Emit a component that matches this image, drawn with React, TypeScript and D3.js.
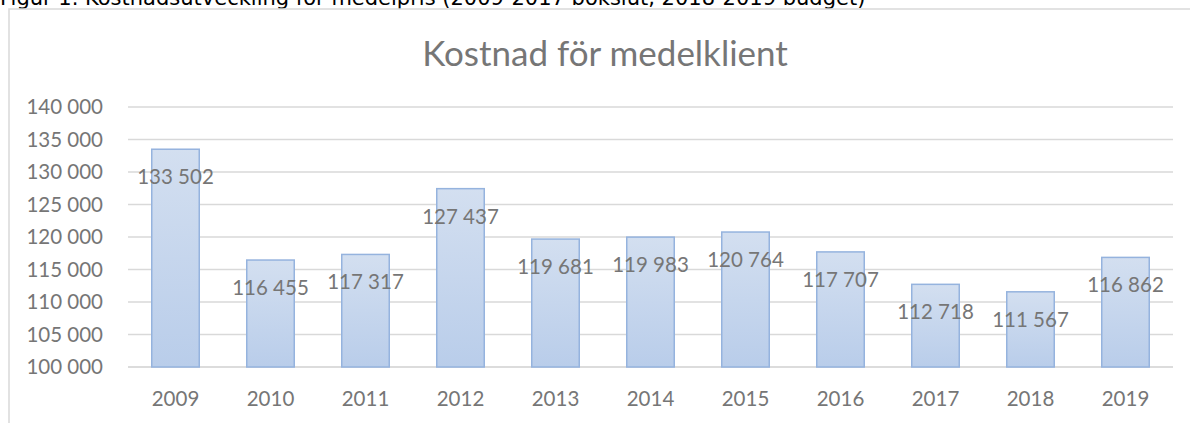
import React, { useRef, useEffect } from "react";
import * as d3 from "d3";

const years = ["2009", "2010", "2011", "2012", "2013", "2014", "2015", "2016", "2017", "2018", "2019"];
const costs = [133502, 116455, 117317, 127437, 119681, 119983, 120764, 117707, 112718, 111567, 116862];
const yTicks = [100000, 105000, 110000, 115000, 120000, 125000, 130000, 135000, 140000];
const chartTitle = "Kostnad för medelklient";
const caption = "Figur 1. Kostnadsutveckling för medelpris (2009-2017 bokslut, 2018-2019 budget)";

const fmt = (v: number) => d3.format(",")(v).replace(/,/g, " ");

const App: React.FC = () => {
    const ref = useRef<SVGSVGElement | null>(null);

    useEffect(() => {
        const root = d3.select(ref.current);
        root.selectAll("*").remove();

        const width = 1190;
        const height = 423;
        const plot = { left: 128, right: 1173, top: 107, bottom: 367 };
        const textColor = "#767676";
        const font = "Lato, 'Open Sans', sans-serif";

        root.attr("width", width).attr("height", height);

        const defs = root.append("defs");
        const grad = defs
            .append("linearGradient")
            .attr("id", "barFill")
            .attr("x1", 0)
            .attr("y1", 0)
            .attr("x2", 0)
            .attr("y2", 1);
        grad.append("stop").attr("offset", "0%").attr("stop-color", "#d3dff0");
        grad.append("stop").attr("offset", "100%").attr("stop-color", "#b9cdea");

        // caption above the chart box (top half is cut off, as in the source)
        root.append("text")
            .attr("x", 0)
            .attr("y", 5)
            .style("font-family", "'DejaVu Sans', Verdana, sans-serif")
            .style("font-size", "21px")
            .attr("fill", "#000")
            .text(caption);

        // chart box border
        root.append("path")
            .attr("d", `M9,${height + 2}V9H${width + 2}`)
            .attr("fill", "none")
            .attr("stroke", "#d9d9d9")
            .attr("stroke-width", 1.5);

        root.append("text")
            .attr("x", 605)
            .attr("y", 66)
            .attr("text-anchor", "middle")
            .style("font-family", font)
            .style("font-size", "35px")
            .attr("fill", textColor)
            .text(chartTitle);

        const x = d3
            .scaleBand()
            .domain(years)
            .range([plot.left, plot.right])
            .paddingInner(0.5)
            .paddingOuter(0.25);

        const y = d3
            .scaleLinear()
            .domain([100000, 140000])
            .range([plot.bottom, plot.top]);

        // gridlines
        root.append("g")
            .selectAll("line")
            .data(yTicks)
            .enter()
            .append("line")
            .attr("x1", plot.left)
            .attr("x2", plot.right)
            .attr("y1", (d) => y(d))
            .attr("y2", (d) => y(d))
            .attr("stroke", (d) => (d === 100000 ? "#d0d0d0" : "#d9d9d9"))
            .attr("stroke-width", 1.5);

        // y axis labels
        root.append("g")
            .selectAll("text")
            .data(yTicks)
            .enter()
            .append("text")
            .attr("x", 103)
            .attr("y", (d) => y(d))
            .attr("dy", "0.36em")
            .attr("text-anchor", "end")
            .style("font-family", font)
            .style("font-size", "20.5px")
            .attr("fill", textColor)
            .text((d) => fmt(d));

        const data = years.map((yr, i) => ({ year: yr, value: costs[i] }));

        // bars
        root.append("g")
            .selectAll("rect")
            .data(data)
            .enter()
            .append("rect")
            .attr("x", (d) => x(d.year)!)
            .attr("y", (d) => y(d.value))
            .attr("width", x.bandwidth())
            .attr("height", (d) => y(100000) - y(d.value))
            .attr("fill", "url(#barFill)")
            .attr("stroke", "#95b3de")
            .attr("stroke-width", 1.5);

        // value labels, inside end
        root.append("g")
            .selectAll("text")
            .data(data)
            .enter()
            .append("text")
            .attr("x", (d) => x(d.year)! + x.bandwidth() / 2)
            .attr("y", (d) => y(d.value) + 35)
            .attr("text-anchor", "middle")
            .style("font-family", font)
            .style("font-size", "20.5px")
            .attr("fill", textColor)
            .text((d) => fmt(d.value));

        // x axis labels
        root.append("g")
            .selectAll("text")
            .data(years)
            .enter()
            .append("text")
            .attr("x", (d) => x(d)! + x.bandwidth() / 2)
            .attr("y", 406)
            .attr("text-anchor", "middle")
            .style("font-family", font)
            .style("font-size", "20.5px")
            .attr("fill", textColor)
            .text((d) => d);
    }, []);

    return (
        <div>
            <svg
                ref={ref}
                style={{ position: "absolute", left: 0, top: 0, background: "#fff" }}
            ></svg>
        </div>
    );
};

export default App;
